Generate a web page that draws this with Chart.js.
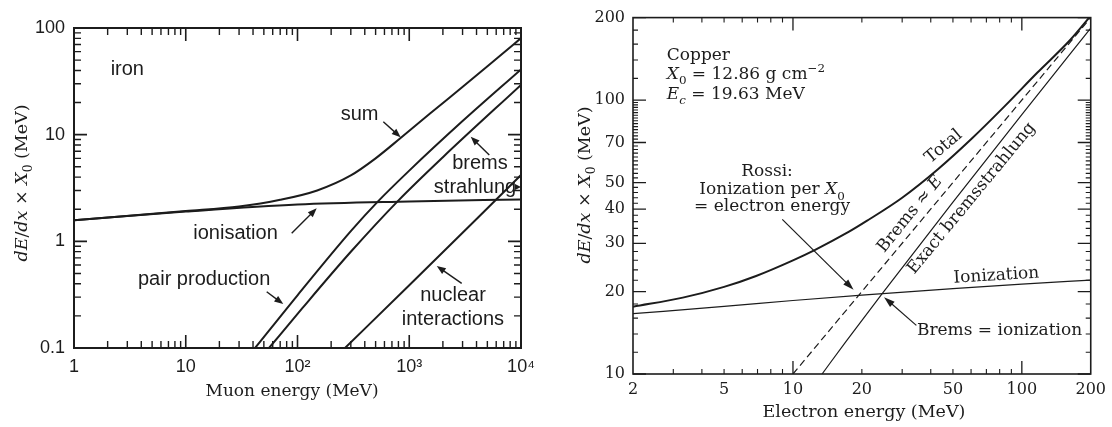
<!DOCTYPE html>
<html lang="en">
<head>
<meta charset="UTF-8" />
<title>Energy loss per radiation length</title>
<script src="https://cdn.jsdelivr.net/npm/chart.js"></script>
<style>
  body { margin: 0; background: #fff; }
  canvas { position: absolute; top: 0; }
  #muonChart { left: 0; }
  #electronChart { left: 556px; }
</style>
</head>
<body>
<canvas id="muonChart" width="556" height="427"></canvas>
<canvas id="electronChart" width="556" height="427"></canvas>
<script>
// ---------- muons in iron: dE/dx * X0 (MeV) vs muon energy (MeV) ----------
const muonTicks = [1, 10, 100, 1000, 10000];
const muonTickLabels = ['1', '10', '10²', '10³', '10⁴'];
const muonLossTicks = [0.1, 1, 10, 100];
const muonLossTickLabels = ['0.1', '1', '10', '100'];

const ionisationE = [1, 10, 100, 1000, 10000];
const ionisationLoss = [1.58, 1.90, 2.21, 2.36, 2.47];
const sumE = [1, 10, 30, 70, 150, 300, 500, 826, 1534, 3048, 6064, 10000];
const sumLoss = [1.58, 1.92, 2.12, 2.45, 3.0, 4.15, 6.0, 9.2, 15.8, 28.4, 51.8, 80.4];
const pairE = [41.7, 100, 300, 528, 1000, 3000, 10000];
const pairLoss = [0.1, 0.312, 1.245, 2.38, 4.6, 13.4, 40.9];
const bremsE = [55.6, 110, 300, 798, 2000, 10000];
const bremsLoss = [0.1, 0.235, 0.798, 2.41, 6.15, 29.3];
const nuclearE = [266, 1000, 6065, 10000];
const nuclearLoss = [0.1, 0.387, 2.49, 4.18];

// ---------- electrons in copper ----------
const electronTicks = [2, 5, 10, 20, 50, 100, 200];
const electronLossTicks = [10, 20, 30, 40, 50, 70, 100, 200];

const totalE = [2, 3.3, 5, 6.9, 10, 12.5, 17.5, 21, 30, 43, 60, 84, 117, 163, 200];
const totalLoss = [17.6, 19.0, 20.8, 22.8, 26.0, 28.4, 33.0, 36.2, 44.0, 55.9, 71.9, 94.8, 126, 166, 203];
const ionizationE = [2, 5, 10, 20, 50, 100, 200];
const ionizationLoss = [16.6, 17.65, 18.55, 19.4, 20.5, 21.3, 22.0];
const rossiE = [10, 200];
const rossiLoss = [10, 200];
const exactE = [13.4, 17, 24.3, 50, 100, 200];
const exactLoss = [10, 13.1, 19.45, 42.4, 88.4, 183];

const INK = '#1c1c1c';
const SANS = '"Liberation Sans", Arial, sans-serif';
const SERIF = '"DejaVu Serif", serif';

function pairs(xs, ys) {
  return xs.map((x, i) => ({ x, y: ys[i] }));
}

function line(xs, ys, width, extra) {
  return Object.assign({
    data: pairs(xs, ys),
    borderColor: INK,
    borderWidth: width,
    pointRadius: 0,
    fill: false,
    cubicInterpolationMode: 'monotone'
  }, extra || {});
}

// text made of pieces: style letters i = italic, b = subscript, p = superscript
function pieceFont(style, size, family) {
  const s = /[bp]/.test(style) ? size * 0.7 : size;
  return (style.includes('i') ? 'italic ' : '') + s + 'px ' + family;
}

function drawRich(ctx, parts, x, y, size, family, align) {
  let w = 0;
  parts.forEach(([t, st = '']) => {
    ctx.font = pieceFont(st, size, family);
    w += ctx.measureText(t).width;
  });
  let cx = align === 'center' ? x - w / 2 : align === 'right' ? x - w : x;
  ctx.textAlign = 'left';
  parts.forEach(([t, st = '']) => {
    ctx.font = pieceFont(st, size, family);
    const dy = st.includes('b') ? size * 0.3 : st.includes('p') ? -size * 0.4 : 0;
    ctx.fillText(t, cx, y + dy);
    cx += ctx.measureText(t).width;
  });
}

function arrow(ctx, x1, y1, x2, y2, head, half) {
  const a = Math.atan2(y2 - y1, x2 - x1);
  const c = Math.cos(a), s = Math.sin(a);
  ctx.beginPath();
  ctx.moveTo(x1, y1);
  ctx.lineTo(x2 - head * 0.7 * c, y2 - head * 0.7 * s);
  ctx.stroke();
  ctx.beginPath();
  ctx.moveTo(x2, y2);
  ctx.lineTo(x2 - head * c + half * s, y2 - head * s - half * c);
  ctx.lineTo(x2 - head * c - half * s, y2 - head * s + half * c);
  ctx.closePath();
  ctx.fill();
}

function at(chart, e, v) {
  return [chart.scales.x.getPixelForValue(e), chart.scales.y.getPixelForValue(v)];
}

function drawFrameAndTicks(chart, ticks, frameWidth) {
  const { ctx, chartArea: a, scales } = chart;
  ctx.save();
  ctx.strokeStyle = INK;
  ticks.forEach(({ xs, ys, len, width }) => {
    ctx.lineWidth = width;
    ctx.beginPath();
    xs.forEach(v => {
      const x = scales.x.getPixelForValue(v);
      ctx.moveTo(x, a.top); ctx.lineTo(x, a.top + len);
      ctx.moveTo(x, a.bottom); ctx.lineTo(x, a.bottom - len);
    });
    ys.forEach(v => {
      const y = scales.y.getPixelForValue(v);
      ctx.moveTo(a.left, y); ctx.lineTo(a.left + len, y);
      ctx.moveTo(a.right, y); ctx.lineTo(a.right - len, y);
    });
    ctx.stroke();
  });
  ctx.lineWidth = frameWidth;
  ctx.strokeRect(a.left, a.top, a.right - a.left, a.bottom - a.top);
  ctx.restore();
}

function logScale(min, max, tickValues, tickLabels, font, padding, size, horizontal) {
  return {
    type: 'logarithmic',
    min, max,
    grid: { display: false, drawTicks: false },
    border: { display: false },
    afterBuildTicks: s => { s.ticks = tickValues.map(value => ({ value })); },
    afterFit: s => { if (horizontal) s.height = size; else s.width = size; },
    ticks: {
      autoSkip: false,
      maxRotation: 0,
      padding,
      color: INK,
      font,
      callback: (v, i) => tickLabels[i]
    }
  };
}

// ---------- left panel ----------
const muonMinorX = [];
[1, 10, 100, 1000].forEach(d => { for (let m = 2; m <= 9; m++) muonMinorX.push(d * m); });
const muonMinorY = [];
[0.1, 1, 10].forEach(d => { for (let m = 2; m <= 9; m++) muonMinorY.push(d * m); });

const muonNotes = {
  id: 'muonNotes',
  afterDraw(chart) {
    const ctx = chart.ctx;
    drawFrameAndTicks(chart, [
      { xs: muonTicks, ys: muonLossTicks, len: 13, width: 1.6 },
      { xs: muonMinorX, ys: muonMinorY, len: 7, width: 1.4 }
    ], 2);
    ctx.save();
    ctx.fillStyle = INK;
    ctx.strokeStyle = INK;
    ctx.lineWidth = 1.4;
    ctx.font = '20px ' + SANS;
    ctx.textAlign = 'center';
    ctx.textBaseline = 'middle';
    [
      ['iron', 3.0, 41.2],
      ['sum', 359, 15.4],
      ['brems', 4295, 5.36],
      ['strahlung', 3875, 3.19],
      ['ionisation', 27.9, 1.18],
      ['pair production', 14.6, 0.443],
      ['nuclear', 2464, 0.31],
      ['interactions', 2460, 0.185]
    ].forEach(([t, e, v]) => {
      const [x, y] = at(chart, e, v);
      ctx.fillText(t, x, y);
    });
    [
      [586, 13.2, 838, 9.44],
      [5203, 6.44, 3548, 9.56],
      [88.7, 1.19, 148.5, 2.04],
      [53, 0.337, 74.6, 0.258],
      [2946, 0.404, 1762, 0.587]
    ].forEach(([e1, v1, e2, v2]) => {
      const [x1, y1] = at(chart, e1, v1);
      const [x2, y2] = at(chart, e2, v2);
      arrow(ctx, x1, y1, x2, y2, 9, 3.5);
    });
    const [sx1, sy1] = at(chart, 9000, 3.23);
    const [sx2, sy2] = at(chart, 10000, 3.23);
    arrow(ctx, sx1, sy1, sx2, sy2, 6, 3);

    // axis titles
    ctx.textBaseline = 'alphabetic';
    drawRich(ctx, [['Muon energy (MeV)']], 292, 396, 17, SERIF, 'center');
    ctx.translate(27, 183);
    ctx.rotate(-Math.PI / 2);
    drawRich(ctx, [['dE', 'i'], ['/'], ['dx', 'i'], [' × '], ['X', 'i'], ['0', 'b'], [' (MeV)']], 0, 0, 17.5, SERIF, 'center');
    ctx.restore();
  }
};

new Chart(document.getElementById('muonChart'), {
  type: 'line',
  data: {
    datasets: [
      line(ionisationE, ionisationLoss, 2),
      line(sumE, sumLoss, 2),
      line(pairE, pairLoss, 2),
      line(bremsE, bremsLoss, 2),
      line(nuclearE, nuclearLoss, 2)
    ]
  },
  options: {
    responsive: false,
    animation: false,
    layout: { padding: { left: 0, top: 28, right: 35, bottom: 0 } },
    plugins: { legend: { display: false }, tooltip: { enabled: false } },
    scales: {
      x: logScale(1, 10000, muonTicks, muonTickLabels, { family: SANS, size: 18 }, 8, 79, true),
      y: logScale(0.1, 100, muonLossTicks, muonLossTickLabels, { family: SANS, size: 18 }, 9, 74, false)
    }
  },
  plugins: [muonNotes]
});

// ---------- right panel ----------
const electronLongX = [10, 100];
const electronShortX = [3, 4, 5, 6, 7, 8, 9, 20, 30, 40, 50, 60, 70, 80, 90];
const electronShortY = [];
for (let v = 12; v < 100; v += 2) {
  if (!electronLossTicks.includes(v)) electronShortY.push(v);
}
[120, 140, 160, 180].forEach(v => electronShortY.push(v));

const electronNotes = {
  id: 'electronNotes',
  afterDraw(chart) {
    const ctx = chart.ctx;
    drawFrameAndTicks(chart, [
      { xs: electronLongX, ys: electronLossTicks, len: 13, width: 1.3 },
      { xs: electronShortX, ys: electronShortY, len: 5, width: 1.1 }
    ], 1.6);
    ctx.save();
    ctx.fillStyle = INK;
    ctx.strokeStyle = INK;
    ctx.lineWidth = 1.2;
    ctx.textBaseline = 'alphabetic';
    const size = 17;

    // material block
    const [cx, cy] = at(chart, 2.81, 140.3);
    drawRich(ctx, [['Copper']], cx, cy, size, SERIF, 'left');
    drawRich(ctx, [['X', 'i'], ['0', 'b'], [' = 12.86 g cm'], ['−2', 'p']], cx, cy + 19.5, size, SERIF, 'left');
    drawRich(ctx, [['E', 'i'], ['c', 'ib'], [' = 19.63 MeV']], cx, cy + 39, size, SERIF, 'left');

    // Rossi note
    const [rx, ry] = at(chart, 8.10, 52.6);
    drawRich(ctx, [['Rossi:']], rx - 5, ry, size, SERIF, 'center');
    drawRich(ctx, [['Ionization per '], ['X', 'i'], ['0', 'b']], rx, ry + 18, size, SERIF, 'center');
    drawRich(ctx, [['= electron energy']], rx, ry + 35, size, SERIF, 'center');

    const [bx, by] = at(chart, 34.8, 14.4);
    ctx.textBaseline = 'middle';
    drawRich(ctx, [['Brems = ionization']], bx, by, size, SERIF, 'left');

    // labels that run along the curves
    [
      [[['Ionization']], 77.4, 22.85, -3.5],
      [[['Total']], 45.6, 67.6, -40],
      [[['Brems ≈ '], ['E', 'i']], 32.5, 38.3, -51],
      [[['Exact bremsstrahlung']], 60.3, 43.8, -50.5]
    ].forEach(([parts, e, v, deg]) => {
      const [x, y] = at(chart, e, v);
      ctx.save();
      ctx.translate(x, y);
      ctx.rotate(deg * Math.PI / 180);
      drawRich(ctx, parts, 0, 0, size, SERIF, 'center');
      ctx.restore();
    });

    [
      [8.98, 36.7, 18.4, 20.3],
      [34.6, 15.05, 25.0, 19.06]
    ].forEach(([e1, v1, e2, v2]) => {
      const [x1, y1] = at(chart, e1, v1);
      const [x2, y2] = at(chart, e2, v2);
      arrow(ctx, x1, y1, x2, y2, 11, 3.5);
    });

    // axis titles
    ctx.textBaseline = 'alphabetic';
    drawRich(ctx, [['Electron energy (MeV)']], 308, 417, 17.5, SERIF, 'center');
    ctx.translate(34, 185);
    ctx.rotate(-Math.PI / 2);
    drawRich(ctx, [['dE', 'i'], ['/'], ['dx', 'i'], [' × '], ['X', 'i'], ['0', 'b'], [' (MeV)']], 0, 0, 17.5, SERIF, 'center');
    ctx.restore();
  }
};

new Chart(document.getElementById('electronChart'), {
  type: 'line',
  data: {
    datasets: [
      line(totalE, totalLoss, 2),
      line(ionizationE, ionizationLoss, 1.2),
      line(rossiE, rossiLoss, 1.2, { borderDash: [7, 4], cubicInterpolationMode: 'default', tension: 0 }),
      line(exactE, exactLoss, 1.2)
    ]
  },
  options: {
    responsive: false,
    animation: false,
    layout: { padding: { left: 0, top: 15, right: 18, bottom: 0 } },
    plugins: { legend: { display: false }, tooltip: { enabled: false } },
    scales: {
      x: logScale(2, 200, electronTicks, electronTicks.map(String), { family: SERIF, size: 16 }, 6, 53, true),
      y: logScale(10, 200, electronLossTicks, electronLossTicks.map(String), { family: SERIF, size: 16 }, 8, 77, false)
    }
  },
  plugins: [electronNotes]
});
</script>
</body>
</html>
